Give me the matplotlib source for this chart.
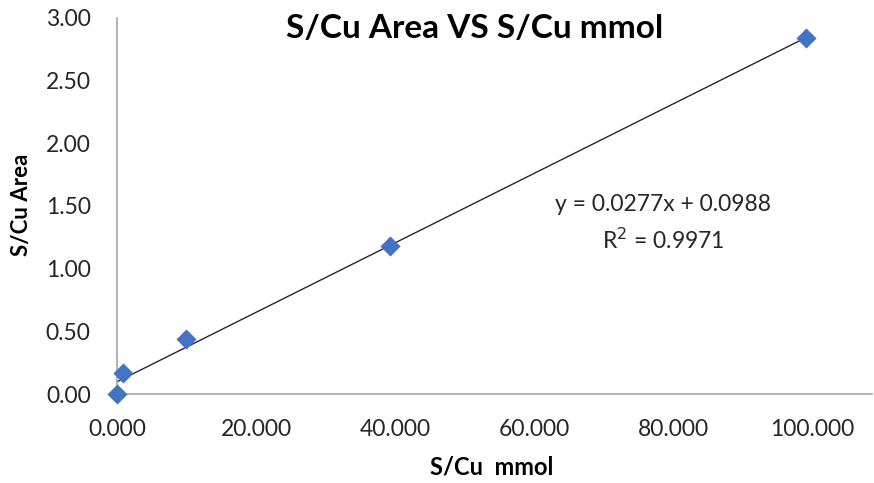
import matplotlib
matplotlib.use('Agg')
import matplotlib.pyplot as plt
import numpy as np

plt.rcParams['font.family'] = ['Lato', 'DejaVu Sans']

# S/Cu mmol vs S/Cu peak area ratio
mmol = [0.0, 0.86, 9.9, 39.2, 99.1]
area = [0.0, 0.17, 0.44, 1.18, 2.84]

slope = 0.0277
intercept = 0.0988
r2 = 0.9971

xticks = [0, 20, 40, 60, 80, 100]
yticks = [0, 0.5, 1.0, 1.5, 2.0, 2.5, 3.0]

fig = plt.figure(figsize=(8.74, 4.83), dpi=100)
ax = fig.add_axes([0.134, 0.184, 0.864, 0.779])

# linear trendline across the data range
xfit = np.array([0.0, max(mmol)])
ax.plot(xfit, slope * xfit + intercept, color='#262626', lw=1.0, zorder=2)

ax.scatter(mmol, area, marker='D', s=105, color='#4472C4', zorder=3,
           clip_on=False, linewidths=0)

ax.set_xlim(0, 108.6)
ax.set_ylim(0, 3.0)
ax.set_xticks(xticks)
ax.set_yticks(yticks)
ax.set_xticklabels(['%.3f' % t for t in xticks])
ax.set_yticklabels(['%.2f' % t for t in yticks])
ax.tick_params(length=0, labelsize=16.5, colors='#262626')
ax.tick_params(axis='x', pad=18)
ax.tick_params(axis='y', pad=19)

for side in ['top', 'right']:
    ax.spines[side].set_visible(False)
for side in ['left', 'bottom']:
    ax.spines[side].set_color('#A6A6A6')
    ax.spines[side].set_linewidth(1.2)

fig.text(0.543, 0.94, 'S/Cu Area VS S/Cu mmol', ha='center', va='center',
         fontsize=24, fontweight='bold', color='black')
fig.text(0.025, 0.576, 'S/Cu Area', ha='center', va='center', rotation=90,
         fontsize=16, fontweight='bold', color='black')
fig.text(0.563, 0.033, 'S/Cu  mmol', ha='center', va='center',
         fontsize=17, fontweight='bold', color='black')

# trendline equation and fit quality
fig.text(0.759, 0.576, 'y = %.4fx + %.4f' % (slope, intercept),
         ha='center', va='center', fontsize=16.5, color='#262626')
fig.text(0.759, 0.503, 'R$^{2}$ = %.4f' % r2,
         ha='center', va='center', fontsize=16.5, color='#262626')

fig.savefig('out.png', dpi=100)
